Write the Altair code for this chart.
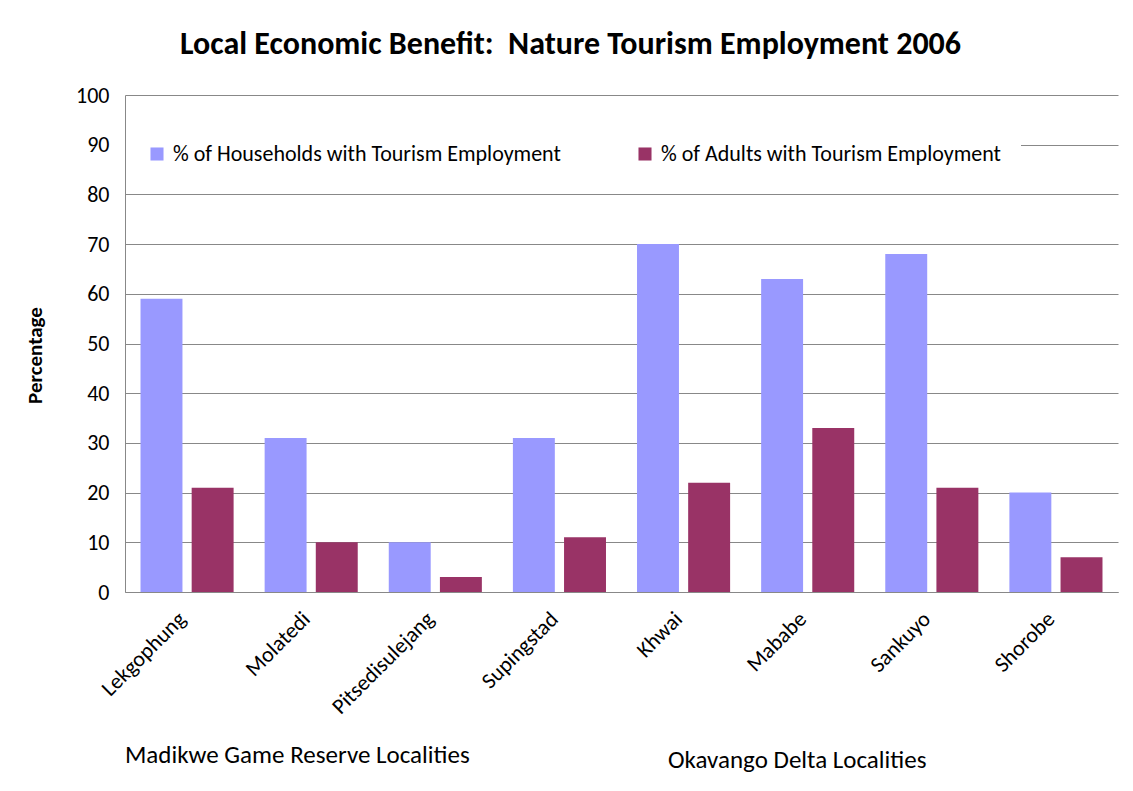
import altair as alt
import pandas as pd

localities = ["Lekgophung", "Molatedi", "Pitsedisulejang", "Supingstad",
              "Khwai", "Mababe", "Sankuyo", "Shorobe"]
households = [59, 31, 10, 31, 70, 63, 68, 20]
adults = [21, 10, 3, 11, 22, 33, 21, 7]
series_names = ["% of Households with Tourism Employment",
                "% of Adults with Tourism Employment"]
colors = ["#9999FF", "#993366"]
region_labels = ["Madikwe Game Reserve Localities", "Okavango Delta Localities"]
y_ticks = [0, 10, 20, 30, 40, 50, 60, 70, 80, 90, 100]
title_text = "Local Economic Benefit:\u00a0 Nature Tourism Employment 2006"

rows = []
for i, loc in enumerate(localities):
    rows.append({"Locality": loc, "Series": series_names[0], "Value": households[i]})
    rows.append({"Locality": loc, "Series": series_names[1], "Value": adults[i]})
df = pd.DataFrame(rows)

FONT = "Carlito, Open Sans, sans-serif"
W, H = 993, 497

bars = alt.Chart(df).mark_bar().encode(
    x=alt.X("Locality:N", sort=localities,
            scale=alt.Scale(paddingInner=0.25, paddingOuter=0.125),
            axis=alt.Axis(title=None, labelAngle=-45, labelFontSize=22,
                          labelColor="black", ticks=False, domainColor="#888888",
                          labelPadding=16, labelOffset=-12, labelFont=FONT)),
    xOffset=alt.XOffset("Series:N", sort=series_names,
                        scale=alt.Scale(paddingInner=0.18, paddingOuter=0)),
    y=alt.Y("Value:Q", scale=alt.Scale(domain=[0, 100]),
            axis=alt.Axis(title="Percentage", values=y_ticks, ticks=False,
                          labelFontSize=22, labelFont=FONT, labelColor="black",
                          labelPadding=16, domainColor="#888888",
                          gridColor="#888888", gridWidth=1,
                          titleFont=FONT, titleFontSize=21, titleFontWeight="bold",
                          titleColor="black", titlePadding=30, titleY=260)),
    color=alt.Color("Series:N", sort=series_names,
                    scale=alt.Scale(domain=series_names, range=colors),
                    legend=alt.Legend(title=None, orient="none", legendX=1, legendY=28,
                                      direction="horizontal", fillColor="white",
                                      padding=20, symbolType="square", symbolSize=170,
                                      symbolStrokeWidth=0, labelFontSize=22,
                                      labelFont=FONT, labelColor="black",
                                      labelOffset=5, columnPadding=73,
                                      labelLimit=600)),
)

lab1 = alt.Chart(pd.DataFrame({"t": [region_labels[0]]})).mark_text(
    align="left", baseline="middle", fontSize=25, font=FONT, color="black"
).encode(text="t:N", x=alt.value(0), y=alt.value(660))

lab2 = alt.Chart(pd.DataFrame({"t": [region_labels[1]]})).mark_text(
    align="left", baseline="middle", fontSize=25, font=FONT, color="black"
).encode(text="t:N", x=alt.value(543), y=alt.value(665))

chart = alt.layer(bars, lab1, lab2).properties(
    width=W, height=H,
    title=alt.TitleParams(title_text,
                          font=FONT, fontSize=32, fontWeight="bold", color="black",
                          anchor="middle", dx=-51, offset=23),
    autosize=alt.AutoSizeParams(type="none"),
    padding={"left": 125, "top": 95, "right": 15, "bottom": 199},
    background="white",
).configure_view(stroke=None)

chart.save("out.html", embed_options={"renderer": "svg", "actions": False})
